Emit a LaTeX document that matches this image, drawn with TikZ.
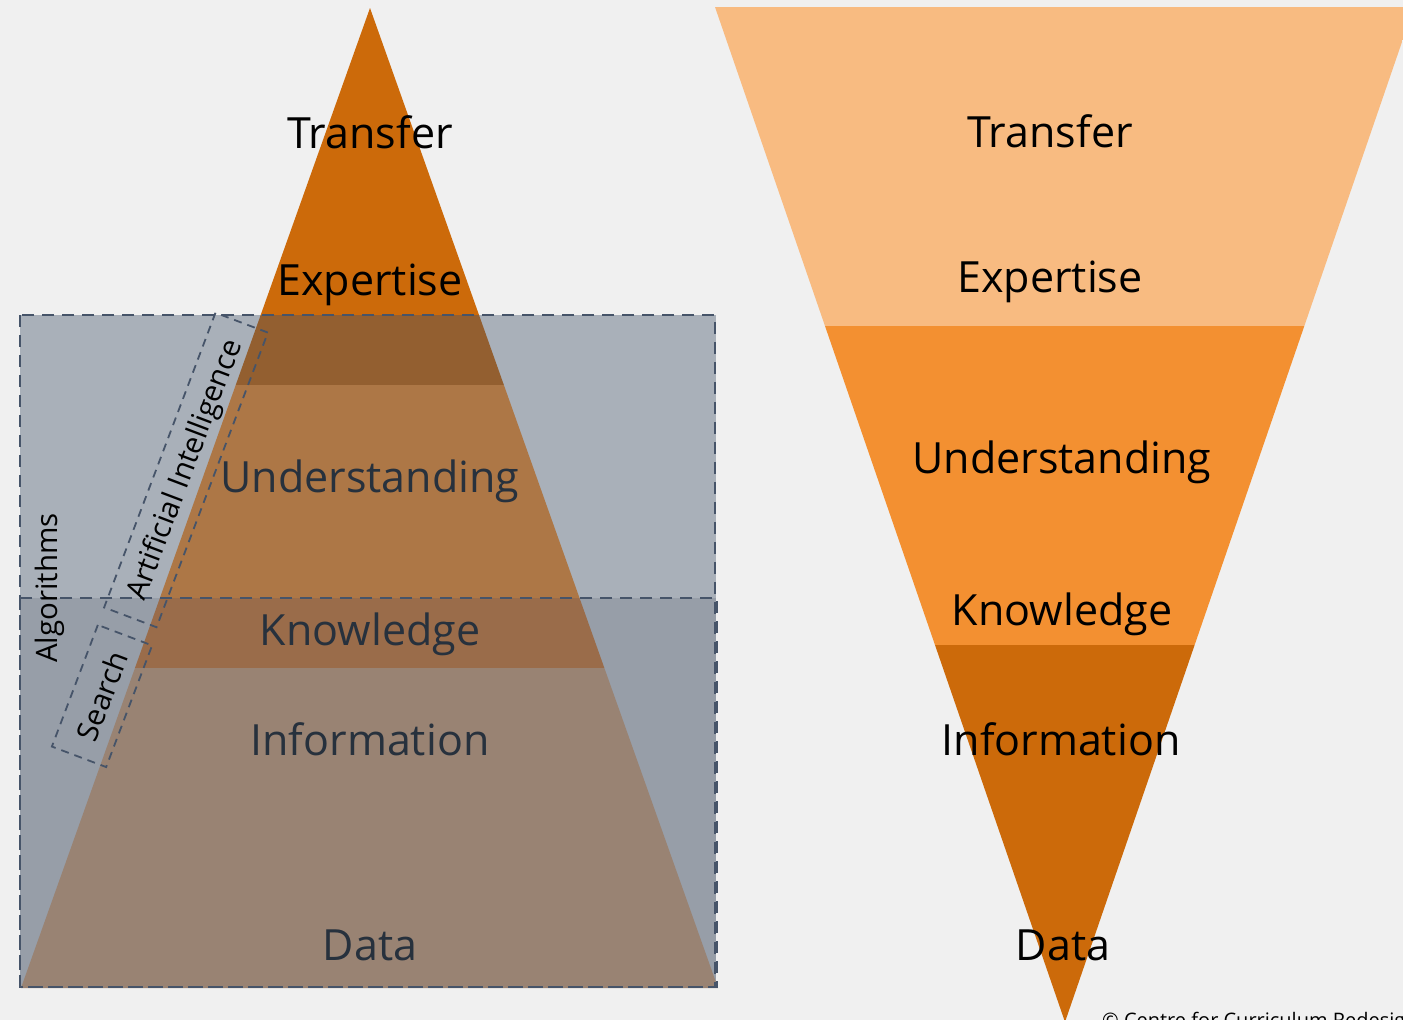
\documentclass[tikz,border=0pt]{standalone}
\usepackage{fontspec}
\setmainfont{Open Sans}
\usepackage{xcolor}
\usepackage{tikz}
\usetikzlibrary{positioning,calc}

\definecolor{bgGray}{HTML}{F0F0F0}
\definecolor{orangeDark}{HTML}{CC6A0A}
\definecolor{orangeMid}{HTML}{F39031}
\definecolor{orangeLight}{HTML}{F8BB81}
\definecolor{areaTop}{HTML}{A9B0B9}
\definecolor{areaLow}{HTML}{979EA8}
\definecolor{bandA}{HTML}{935F30}
\definecolor{bandB}{HTML}{AD7746}
\definecolor{bandC}{HTML}{9A6C4A}
\definecolor{bandD}{HTML}{998373}
\definecolor{dashBlue}{HTML}{465469}
\definecolor{slateText}{HTML}{27313D}

\tikzset{
    layertext/.style={anchor=base, inner sep=0pt, font=\fontsize{43}{43}\selectfont},
    areabox/.style={draw=dashBlue, line width=2.6pt, dash pattern=on 12pt off 8pt},
    tagbox/.style={draw=dashBlue, line width=1.8pt, dash pattern=on 8pt off 6pt,
        rotate=69.3, inner sep=0pt, font=\fontsize{29.5}{29.5}\selectfont},
}

\begin{document}
\begin{tikzpicture}[x=1pt,y=-1pt]
    \clip (0,0) rectangle (1403,1020);
    \fill[bgGray] (0,0) rectangle (1403,1020);

    % Areas behind the pyramid
    \fill[areaTop] (20,315) rectangle (716,598);
    \fill[areaLow] (20,598) rectangle (716,988);

    % Pyramid layers
    \begin{scope}
        \clip (370,8) -- (718,988) -- (21,988) -- cycle;
        \fill[orangeDark] (0,0) rectangle (720,315);
        \fill[bandA] (0,315) rectangle (720,385);
        \fill[bandB] (0,385) rectangle (720,598);
        \fill[bandC] (0,598) rectangle (720,668);
        \fill[bandD] (0,668) rectangle (720,990);
    \end{scope}

    % Dashed areas
    \draw[areabox] (20,315) rectangle (715,987);
    \draw[areabox] (20,598) rectangle (717,987);

    % Pyramid labels
    \foreach \name/\y in {Transfer/148, Expertise/295} {
        \node[layertext] (left\name) at (370,\y) {\name};
    }
    \foreach \name/\y in {Understanding/492, Knowledge/645, Information/755, Data/960} {
        \node[layertext, text=slateText] (left\name) at (370,\y) {\name};
    }

    % Method labels
    \node[rotate=90, inner sep=0pt, font=\fontsize{29.5}{29.5}\selectfont] (algorithms) at (50,588) {Algorithms};
    \node[tagbox, minimum width=315pt, minimum height=56pt] (ai) at (186,470) {Artificial Intelligence};
    \node[tagbox, minimum width=130pt, minimum height=58pt] (search) at (102,696) {Search};

    % Inverted pyramid
    \begin{scope}
        \clip (715,7) -- (1414,7) -- (1065,1022) -- cycle;
        \fill[orangeLight] (700,0) rectangle (1420,326);
        \fill[orangeMid] (700,326) rectangle (1420,645);
        \fill[orangeDark] (700,645) rectangle (1420,1030);
    \end{scope}

    \foreach \name/\x/\y in {Transfer/1050/147, Expertise/1050/292, Understanding/1062/473,
        Knowledge/1062/625, Information/1061/755, Data/1063/960} {
        \node[layertext] (right\name) at (\x,\y) {\name};
    }

    \node[anchor=base west, inner sep=0pt, font=\fontsize{20}{20}\selectfont] (copyright) at (1102,1027) {© Centre for Curriculum Redesign};
\end{tikzpicture}
\end{document}
